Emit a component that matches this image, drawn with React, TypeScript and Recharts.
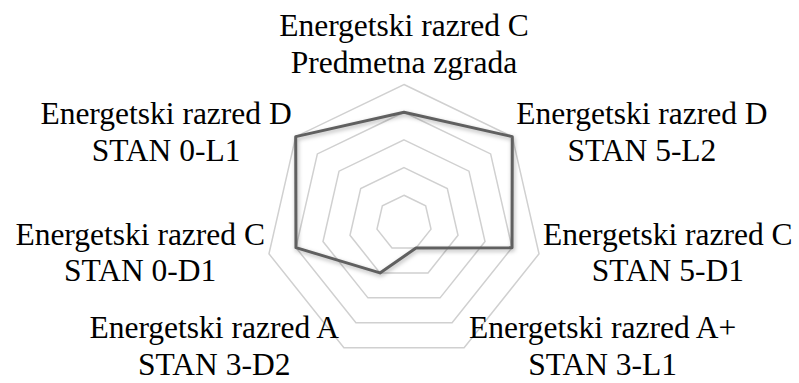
import { RadarChart, Radar, PolarGrid, PolarAngleAxis, PolarRadiusAxis } from "recharts";

// flats in the building, energy class and score (A+ = 1 ... D = 5)
const units = [
  "Predmetna zgrada",
  "STAN 5-L2",
  "STAN 5-D1",
  "STAN 3-L1",
  "STAN 3-D2",
  "STAN 0-D1",
  "STAN 0-L1",
];
const energyClass = ["C", "D", "C", "A+", "A", "C", "D"];
const scores = [4, 5, 4, 1, 2, 4, 5];

const data = units.map((unit, i) => ({
  unit,
  cls: energyClass[i],
  score: scores[i],
}));

const W = 799;
const H = 383;
const CX = 404;
const CY = 223;
const R = 138.5;
const FONT_SIZE = 31.5;
const FONT = "'Liberation Serif', 'Times New Roman', serif";
const LINE_H = 36.6;

let ctx: CanvasRenderingContext2D | null = null;
const textWidth = (s: string) => {
  if (!ctx) ctx = document.createElement("canvas").getContext("2d");
  if (!ctx) return s.length * FONT_SIZE * 0.42;
  ctx.font = `${FONT_SIZE}px ${FONT}`;
  return ctx.measureText(s).width;
};

const AngleLabel = (props: any) => {
  const i = props.index;
  const row = data[i];
  const line1 = `Energetski razred ${row.cls}`;
  const line2 = row.unit;
  const ang = ((90 - (i * 360) / units.length) * Math.PI) / 180;
  const cos = Math.cos(ang);
  const sin = Math.sin(ang);
  const vx = CX + R * cos;
  const vy = CY - R * sin;
  const blockW = Math.max(textWidth(line1), textWidth(line2));

  let mid = vx;
  let base = vy - 12 - LINE_H;
  if (cos > 0.01) {
    mid = vx + 4 + blockW / 2;
    base = vy - 10 - 4 * sin;
  } else if (cos < -0.01) {
    mid = vx - 4 - blockW / 2;
    base = vy - 10 - 4 * sin;
  }
  // keep the descenders of the last line inside the picture
  base = Math.min(base, H - 8 - LINE_H);

  return (
    <text fontFamily={FONT} fontSize={FONT_SIZE} fill="#000" textAnchor="middle">
      <tspan x={mid} y={base}>{line1}</tspan>
      <tspan x={mid} y={base + LINE_H}>{line2}</tspan>
    </text>
  );
};

export default function App() {
  return (
    <div style={{ width: W, height: H, background: "#fff" }}>
      <style>{`body{margin:0}.recharts-radar-polygon{filter:drop-shadow(1px 2px 2px rgba(0,0,0,0.3))}`}</style>
      <RadarChart
        width={W}
        height={H}
        data={data}
        cx={CX}
        cy={CY}
        outerRadius={R}
        margin={{ top: 0, right: 0, bottom: 0, left: 0 }}
      >
        <PolarGrid gridType="polygon" radialLines={false} stroke="#d0d0d0" strokeWidth={1.5} />
        <PolarAngleAxis dataKey="unit" tick={<AngleLabel />} tickLine={false} axisLine={false} />
        <PolarRadiusAxis domain={[0, 5]} tickCount={6} tick={false} axisLine={false} />
        <Radar
          dataKey="score"
          stroke="#606060"
          strokeWidth={3}
          fill="none"
          fillOpacity={0}
          strokeLinejoin="round"
          isAnimationActive={false}
        />
      </RadarChart>
    </div>
  );
}
